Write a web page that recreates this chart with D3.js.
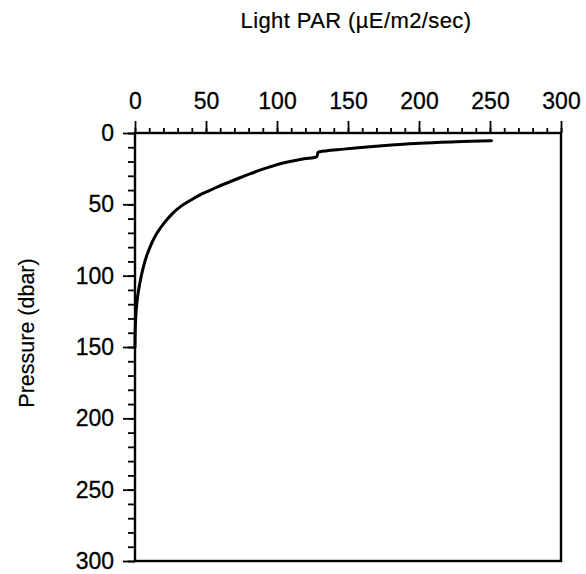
<!DOCTYPE html>
<html><head><meta charset="utf-8">
<script src="https://cdn.jsdelivr.net/npm/d3@7"></script>
<style>
html,body{margin:0;padding:0;background:#fff;}
svg{display:block;}
text{font-family:"Liberation Sans",Arial,Helvetica,sans-serif;fill:#000;}
</style></head>
<body>
<svg id="chart" width="586" height="574"></svg>
<script>
const xTitle = "Light PAR (µE/m2/sec)";
const yTitle = "Pressure (dbar)";
const xTicks = [0, 50, 100, 150, 200, 250, 300];
const yTicks = [0, 50, 100, 150, 200, 250, 300];
const pressure = [5.4, 6.2, 7.2, 8.3, 9.6, 11.3, 13.1, 13.6, 16.6, 18.0, 19.6, 21.4, 23.5, 26.0, 29.4, 33.3, 37.4, 40.5, 43.5, 47.5, 51.6, 56.3, 63.3, 70.3, 78, 86.7, 95, 105.3, 115, 125, 135, 150];
const par =      [251, 226, 200.7, 183, 165.5, 147, 130.3, 128.8, 128, 119, 111, 103, 96, 88, 79, 69, 59, 52, 45.5, 38.5, 32, 26.5, 20.3, 15.4, 11.4, 8.0, 5.6, 3.4, 1.8, 0.8, 0.25, 0];

const svg = d3.select("#chart");
const L = 135, R = 561, T = 133, B = 561;
const x = d3.scaleLinear().domain([0, 300]).range([L, R]);
const y = d3.scaleLinear().domain([0, 300]).range([T, B]);

// frame
svg.append("rect").attr("x", L).attr("y", T).attr("width", R - L).attr("height", B - T)
  .attr("fill", "none").attr("stroke", "#000").attr("stroke-width", 2.4);

// top axis
const xMinor = d3.range(0, 301, 10);
const gx = svg.append("g").attr("transform", `translate(0,${T})`);
gx.call(d3.axisTop(x).tickValues(xMinor).tickSize(5).tickFormat(""));
gx.append("g").call(d3.axisTop(x).tickValues(xTicks).tickSize(12).tickPadding(12).tickFormat(d3.format("d")));
gx.selectAll("path").remove();
gx.selectAll("line").attr("stroke", "#000").attr("stroke-width", 1.8);
gx.selectAll("text").attr("font-size", 23).attr("font-family", "Liberation Sans, Arial, sans-serif")
  .attr("fill", "#000").attr("stroke", "#000").attr("stroke-width", 0.3);

// left axis
const yMinor = d3.range(0, 301, 10);
const gy = svg.append("g").attr("transform", `translate(${L},0)`);
gy.call(d3.axisLeft(y).tickValues(yMinor).tickSize(7).tickFormat(""));
gy.append("g").call(d3.axisLeft(y).tickValues(yTicks).tickSize(12).tickPadding(9).tickFormat(d3.format("d")));
gy.selectAll("path").remove();
gy.selectAll("line").attr("stroke", "#000").attr("stroke-width", 1.8);
gy.selectAll("text").attr("font-size", 23).attr("font-family", "Liberation Sans, Arial, sans-serif")
  .attr("fill", "#000").attr("stroke", "#000").attr("stroke-width", 0.3);

// curve
const pts = pressure.map((p, i) => [par[i], p]);
svg.append("path").datum(pts)
  .attr("fill", "none").attr("stroke", "#000").attr("stroke-width", 3).attr("stroke-linejoin", "round").attr("stroke-linecap", "round")
  .attr("d", d3.line().curve(d3.curveCatmullRom.alpha(0.5)).x(d => x(d[0])).y(d => y(d[1])));

// titles
svg.append("text").attr("x", 356).attr("y", 28).attr("text-anchor", "middle").attr("font-size", 22)
  .attr("letter-spacing", 0.4).attr("stroke", "#000").attr("stroke-width", 0.2).text(xTitle);
svg.append("text").attr("transform", "translate(34,333) rotate(-90)").attr("text-anchor", "middle").attr("font-size", 21.5)
  .attr("stroke", "#000").attr("stroke-width", 0.2).text(yTitle);
</script>
</body></html>
